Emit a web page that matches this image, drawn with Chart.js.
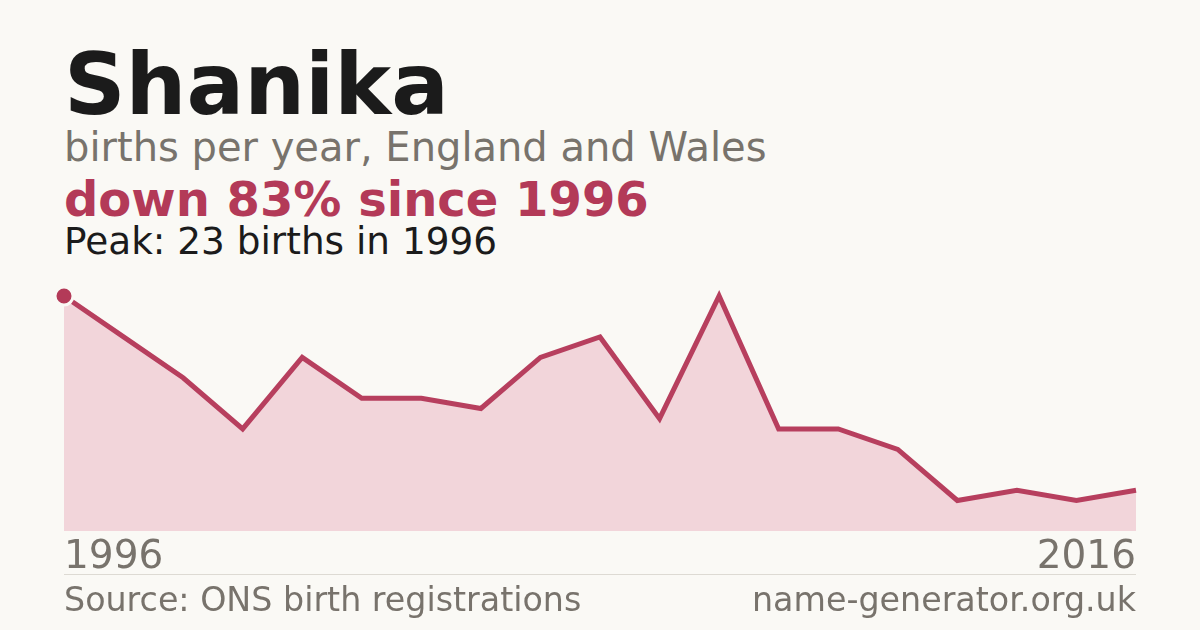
<!DOCTYPE html>
<html>
<head>
<meta charset="utf-8">
<script src="https://cdn.jsdelivr.net/npm/chart.js@4/dist/chart.umd.min.js"></script>
<style>
  html, body { margin: 0; padding: 0; }
  body { width: 1200px; height: 630px; background: #faf9f5; position: relative; overflow: hidden; font-family: 'DejaVu Sans', sans-serif; }
  .t { position: absolute; left: 64px; line-height: 1; white-space: nowrap; }
  #name { top: 42px; font-size: 85.5px; font-weight: bold; color: #1b1b1b; }
  #sub { top: 127px; font-size: 40px; color: #78736c; }
  #change { top: 175px; font-size: 48px; font-weight: bold; color: #b33a58; }
  #peak { top: 223px; font-size: 37.4px; color: #1b1b1b; }
  #rule { position: absolute; left: 64px; width: 1072px; top: 574px; height: 1px; background: #dddad3; }
  #src { top: 583px; font-size: 33.3px; color: #78736c; }
  #site { top: 583px; left: auto; right: 64px; font-size: 33.3px; color: #78736c; }
  #wrap { position: absolute; left: 0; top: 276px; width: 1200px; height: 311px; }
</style>
</head>
<body>
<div class="t" id="name">Shanika</div>
<div class="t" id="sub">births per year, England and Wales</div>
<div class="t" id="change">down 83% since 1996</div>
<div class="t" id="peak">Peak: 23 births in 1996</div>
<div id="wrap"><canvas id="births"></canvas></div>
<div id="rule"></div>
<div class="t" id="src">Source: ONS birth registrations</div>
<div class="t" id="site">name-generator.org.uk</div>
<script>
// years with registrations shown on the chart
const years = ['1996', '1997', '1998', '1999', '2000', '2001', '2002', '2003', '2004', '2005',
               '2006', '2007', '2008', '2009', '2010', '2011', '2012', '2013', '2016'];
const births = [23, 19, 15, 10, 17, 13, 13, 12, 17, 19, 11, 23, 10, 10, 8, 3, 4, 3, 4];
const shownTicks = ['1996', '2016'];

Chart.defaults.font.family = "'DejaVu Sans', sans-serif";

const ctx = document.getElementById('births').getContext('2d');
const birthsChart = new Chart(ctx, {
    type: 'line',
    data: {
        labels: years,
        datasets: [{
            label: 'Births',
            data: births,
            borderColor: '#b73f5e',
            borderWidth: 5,
            backgroundColor: '#f2d5da',
            fill: 'origin',
            tension: 0,
            clip: false,
            pointRadius: c => c.dataIndex === 0 ? 9 : 0,
            pointHoverRadius: 0,
            pointBackgroundColor: '#b33a58',
            pointBorderColor: '#faf9f5',
            pointBorderWidth: 3
        }]
    },
    options: {
        responsive: true,
        maintainAspectRatio: false,
        animation: false,
        layout: {
            padding: { left: 64, right: 64, top: 20, bottom: 3 }
        },
        plugins: {
            legend: { display: false },
            tooltip: { enabled: false }
        },
        scales: {
            x: {
                offset: false,
                grid: { display: false, drawTicks: false },
                border: { display: false },
                ticks: {
                    autoSkip: false,
                    maxRotation: 0,
                    align: 'inner',
                    padding: 3,
                    color: '#78736c',
                    font: { size: 39 },
                    callback: function (value) {
                        const y = this.getLabelForValue(value);
                        return shownTicks.includes(y) ? y : '';
                    }
                }
            },
            y: {
                display: false,
                min: 0,
                max: 23
            }
        }
    }
});
</script>
</body>
</html>
